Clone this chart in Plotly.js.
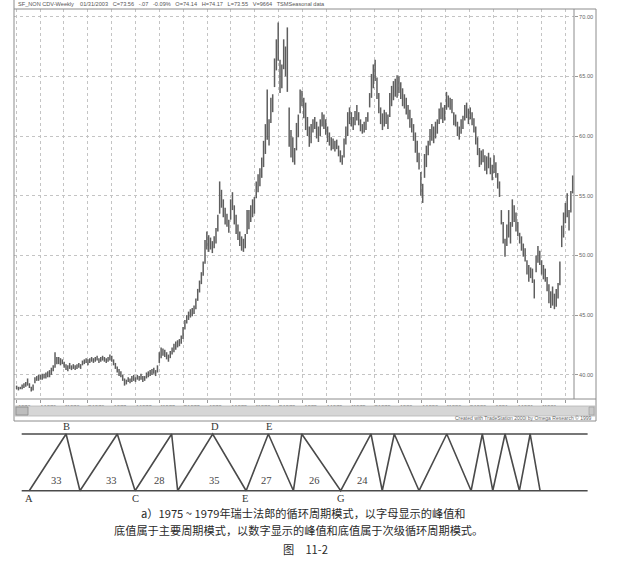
<!DOCTYPE html>
<html><head><meta charset="utf-8">
<script src="https://cdn.plot.ly/plotly-3.0.1.min.js"></script>
<style>html,body{margin:0;padding:0;background:#fff}#chart{width:637px;height:574px}</style>
</head><body><div id="chart"></div>
<script>
// ---------- DATA ----------
const firstWeek = '1976-01-02';   // weekly bars (Friday)
const weeklyHigh = [
39.1,39.0,39.0,39.2,39.3,39.4,39.7,39.3,39.0,39.2,
39.8,39.9,40.0,40.0,40.1,40.1,40.2,40.3,40.4,40.6,
40.8,41.9,41.5,41.5,41.4,41.3,41.1,40.9,40.8,41.0,
40.8,40.9,40.8,40.9,41.0,40.9,41.2,41.3,41.4,41.3,
41.4,41.5,41.4,41.5,41.6,41.4,41.5,41.6,41.5,41.4,
41.5,41.7,41.6,41.3,41.0,40.7,40.5,40.3,40.0,39.7,
39.6,39.8,39.7,39.9,40.0,39.8,40.0,39.9,40.1,39.9,
39.9,40.2,40.3,40.4,40.5,40.6,40.4,40.8,41.9,42.3,
42.2,42.1,41.9,41.7,42.0,42.3,42.6,42.8,42.9,43.0,
43.3,44.0,44.6,45.0,45.3,45.5,45.6,45.8,46.4,47.2,
47.9,48.6,49.5,51.3,52.0,51.7,51.5,51.2,51.6,52.3,
53.4,56.2,55.5,54.7,54.0,53.5,53.0,54.7,55.3,54.2,
53.4,52.6,52.0,51.6,51.4,51.8,53.8,53.8,54.2,54.7,
54.9,56.2,56.8,57.3,58.2,59.6,61.0,63.9,61.4,63.2,
63.5,66.5,68.1,69.5,66.4,66.0,68.1,67.5,69.1,62.4,
60.5,59.9,59.0,61.1,61.8,63.9,63.8,63.2,62.8,61.6,
60.8,61.0,61.4,61.6,61.2,60.8,61.4,62.0,61.8,61.4,
60.8,60.3,59.9,59.8,59.6,59.7,59.2,58.8,58.4,59.8,
60.8,62.0,62.4,62.0,61.6,62.1,62.6,62.0,61.4,61.0,
61.2,61.6,62.0,63.6,65.2,66.0,66.4,64.9,63.6,62.4,
61.9,62.2,62.0,61.8,63.6,64.2,64.6,64.8,65.1,65.0,
64.5,64.0,63.5,63.2,62.6,62.2,61.5,61.0,60.3,59.6,
58.6,57.0,56.0,58.5,59.2,59.6,60.6,61.0,60.8,61.2,
61.4,62.3,62.8,62.4,62.6,63.7,63.4,63.2,63.1,62.0,
61.8,61.2,60.8,61.4,61.7,62.6,62.8,62.3,62.4,62.0,
61.5,60.8,59.9,59.0,58.8,58.9,58.4,58.3,58.6,58.2,
57.6,58.4,57.8,56.9,56.2,53.8,52.8,51.4,52.6,53.8,
52.8,54.7,54.2,53.6,52.8,51.9,51.6,51.0,50.6,49.6,
49.2,49.0,48.9,48.0,50.0,50.8,50.4,49.6,49.2,48.9,
48.2,47.6,47.0,47.4,46.8,47.2,47.7,49.5,52.5,53.6,
54.4,55.2,53.8,55.4,56.7];
const weeklyLow = [
38.8,38.7,38.8,38.8,38.9,39.0,39.1,38.9,38.6,38.7,
39.3,39.5,39.5,39.6,39.6,39.7,39.7,39.8,39.8,40.0,
40.3,40.6,40.9,40.9,40.8,40.9,40.6,40.4,40.3,40.5,
40.4,40.5,40.4,40.5,40.6,40.5,40.8,40.9,41.0,40.8,
41.0,41.1,41.0,41.1,41.2,41.0,41.1,41.2,41.1,41.0,
41.1,41.2,41.1,40.8,40.5,40.2,39.9,39.8,39.5,39.1,
39.2,39.4,39.3,39.4,39.5,39.4,39.6,39.5,39.6,39.4,
39.5,39.7,39.8,39.9,40.0,40.1,39.9,40.2,41.0,41.4,
41.6,41.5,41.3,41.1,41.4,41.7,41.9,42.1,42.3,42.4,
42.6,43.0,43.8,44.3,44.6,44.8,44.9,45.1,45.5,46.2,
46.9,47.6,48.3,49.3,50.5,50.3,50.5,50.2,50.6,51.0,
52.0,53.5,54.0,53.2,52.6,52.4,51.9,53.0,53.8,52.6,
51.8,51.3,50.8,50.4,50.3,50.6,51.8,52.2,52.8,53.2,
53.5,54.8,55.3,55.8,56.5,57.4,58.5,59.7,59.2,61.1,
62.0,64.1,65.5,66.3,63.6,64.0,65.6,65.0,63.7,59.1,
58.2,57.8,57.6,58.8,59.9,61.9,62.5,61.5,60.5,60.0,
59.1,59.4,60.3,60.6,59.8,59.5,60.0,60.8,60.6,60.1,
59.5,59.2,58.8,58.9,58.7,58.9,58.3,57.8,57.6,58.2,
59.3,60.0,61.0,60.8,60.5,60.9,61.3,60.9,60.4,60.2,
60.3,60.5,61.2,62.4,63.2,64.0,64.6,63.1,61.9,61.0,
60.5,60.8,61.0,60.6,61.6,62.5,63.0,63.3,63.2,63.6,
63.1,62.5,62.3,61.8,61.4,60.7,60.3,59.6,58.6,57.8,
57.2,55.0,54.4,56.5,57.4,58.4,59.2,59.6,59.4,59.8,
60.2,61.0,61.4,61.1,61.3,62.2,62.4,62.2,61.9,60.9,
60.8,60.0,59.7,60.2,60.6,61.3,61.5,61.0,61.4,60.9,
60.3,59.3,58.4,57.4,57.6,57.8,57.1,56.8,57.3,56.8,
56.3,56.9,56.5,55.6,54.9,52.6,51.0,49.9,50.8,51.5,
51.0,52.4,52.8,52.0,51.6,51.0,50.4,49.9,49.5,48.4,
47.8,48.1,47.7,46.4,48.6,49.4,49.2,48.4,48.0,47.8,
47.0,46.0,45.6,45.8,45.5,45.7,46.4,47.5,50.7,51.5,
52.7,53.2,52.1,53.6,55.2];

const priceTicks = [40,45,50,55,60,65,70];
const tickDates = [
'1976-01-01','1976-04-01','1976-07-01','1976-10-01',
'1977-01-01','1977-04-01','1977-07-01','1977-10-01',
'1978-01-01','1978-04-01','1978-07-01','1978-10-01',
'1979-01-01','1979-04-01','1979-07-01','1979-10-01',
'1980-01-01','1980-04-01','1980-07-01','1980-10-01',
'1981-01-01','1981-04-01','1981-07-01','1981-10-01'];
const tickLabels = [
'1976','A1976','J1976','O1976','1977','A1977','J1977','O1977',
'1978','A1978','J1978','O1978','1979','A1979','J1979','O1979',
'1980','A1980','J1980','O1980','1981','A1981','J1981',''];

const headerText = 'SF_NON CDV-Weekly    01/31/2003   C=73.56   -.07   -0.09%   O=74.14   H=74.17   L=73.55   V=9664   TSMSeasonal data';
const creditText = 'Created with TradeStation 2000i by Omega Research © 1999';

// cycle diagram: turning points (1 = peak, 0 = trough)
const cycleDates = ['1976-02-19','1976-07-09','1976-08-31','1977-01-21','1977-03-30','1977-08-17','1977-09-09',
 '1978-01-21','1978-05-29','1978-08-22','1978-11-26','1978-12-28','1979-05-26','1979-09-19','1979-11-01',
 '1979-12-17','1980-03-21','1980-07-05','1980-10-06','1980-11-18','1980-12-28','1981-02-13','1981-04-09',
 '1981-05-20','1981-06-27'];
const cycleLevels = [0,1,0,1,0,1,0,1,0,1,0,1,0,1,0,1,0,1,0,1,0,1,0,1,0];
const bandStart = '1976-01-21', bandEnd = '1981-12-26';
const majorLetters = ['A','B','C','D','E','E','G'];
const majorDates   = ['1976-02-19','1976-07-10','1977-03-30','1978-01-28','1978-05-24','1978-08-24','1979-05-26'];
const majorLevels  = [0,1,0,1,0,1,0];
const minorLengths = ['33','33','28','35','27','26','24'];
const minorDates   = ['1976-06-01','1976-12-31','1977-07-01','1978-01-27','1978-08-16','1979-02-14','1979-08-18'];

const caption1 = 'a）1975 ~ 1979年瑞士法郎的循环周期模式，以字母显示的峰值和';
const caption2 = '底值属于主要周期模式，以数字显示的峰值和底值属于次级循环周期模式。';
const caption3 = '图　11-2';

// ---------- BUILD ----------
const W = 637, H = 574;
const P = x => x / W, Q = y => 1 - y / H;
const dates = weeklyHigh.map((_, i) => {
  const d = new Date(Date.parse(firstWeek + 'T00:00:00Z') + i * 7 * 86400000);
  return d.toISOString().slice(0, 10);
});
const bx = [], by = [];
dates.forEach((d, i) => { bx.push(d, d, null); by.push(weeklyLow[i], weeklyHigh[i], null); });

const traces = [
  {type:'scatter', mode:'lines', x:bx, y:by, xaxis:'x', yaxis:'y',
   line:{color:'#5e5e5e', width:1.5}, hoverinfo:'skip', showlegend:false},
  {type:'scatter', mode:'lines', x:cycleDates, y:cycleLevels, xaxis:'x2', yaxis:'y2',
   line:{color:'#4a4a4a', width:1.6}, hoverinfo:'skip', showlegend:false},
  {type:'scatter', mode:'lines', x:[bandStart, bandEnd, null, bandStart, bandEnd], y:[1,1,null,0,0],
   xaxis:'x2', yaxis:'y2', line:{color:'#4a4a4a', width:1.6}, hoverinfo:'skip', showlegend:false}
];

const ann = [];
const serif = 'Liberation Serif, DejaVu Serif, serif';
majorLetters.forEach((t, i) => ann.push({
  xref:'x2', yref:'y2', x:majorDates[i], y:majorLevels[i], text:t, showarrow:false, borderpad:0,
  xanchor:'center', yanchor:'middle', yshift: majorLevels[i] ? 7 : -8,
  font:{family:serif, size:10.5, color:'#333'}}));
minorLengths.forEach((t, i) => ann.push({
  xref:'x2', yref:'y2', x:minorDates[i], y:0, text:t, showarrow:false, borderpad:0,
  xanchor:'center', yanchor:'middle', yshift:10, font:{family:serif, size:10.5, color:'#444'}}));
const cjk = 'Noto Sans CJK SC, sans-serif';
const capFont = {family:cjk, size:11.2, color:'#2a2a2a'};
ann.push({xref:'paper', yref:'paper', x:P(303), y:Q(512.5), xanchor:'center', yanchor:'middle', borderpad:0, text:caption1, showarrow:false, font:capFont});
ann.push({xref:'paper', yref:'paper', x:P(298), y:Q(530), xanchor:'center', yanchor:'middle', borderpad:0, text:caption2, showarrow:false, font:capFont});
ann.push({xref:'paper', yref:'paper', x:P(305), y:Q(548.5), xanchor:'center', yanchor:'middle', borderpad:0, text:caption3, showarrow:false, font:capFont});
ann.push({xref:'paper', yref:'paper', x:P(16), y:Q(4.5), xanchor:'left', yanchor:'middle', text:headerText, showarrow:false,
  font:{family:'Liberation Sans, Arial, sans-serif', size:5.6, color:'#555'}});
ann.push({xref:'paper', yref:'paper', x:P(593), y:Q(418.5), xanchor:'right', yanchor:'middle', text:creditText, showarrow:false,
  font:{family:'Liberation Sans, Arial, sans-serif', size:5, color:'#666'}});

const gray = '#8c8c8c';
const shapes = [
  {type:'rect', xref:'paper', yref:'paper', x0:P(14), x1:P(596), y0:Q(421), y1:Q(9), line:{color:gray, width:1}},
  {type:'line', xref:'paper', yref:'paper', x0:P(14), x1:P(14), y0:Q(9), y1:Q(0), line:{color:gray, width:1}},
  {type:'line', xref:'paper', yref:'paper', x0:P(574), x1:P(574), y0:Q(399), y1:Q(9), line:{color:gray, width:1}},
  {type:'line', xref:'paper', yref:'paper', x0:P(14), x1:P(596), y0:Q(399), y1:Q(399), line:{color:gray, width:1}},
  {type:'rect', xref:'paper', yref:'paper', x0:P(15), x1:P(595), y0:Q(416), y1:Q(406), fillcolor:'#d6d6d6', line:{color:'#b5b5b5', width:0.8}},
  {type:'rect', xref:'paper', yref:'paper', x0:P(16), x1:P(28), y0:Q(415), y1:Q(407), fillcolor:'#bdbdbd', line:{color:'#8a8a8a', width:0.8}},
  {type:'rect', xref:'paper', yref:'paper', x0:P(589), x1:P(594), y0:Q(415), y1:Q(407), fillcolor:'#c8c8c8', line:{color:'#999', width:0.6}}
];

const layout = {
  width:W, height:H, margin:{l:0, r:0, t:0, b:0},
  paper_bgcolor:'#fff', plot_bgcolor:'rgba(0,0,0,0)', showlegend:false,
  xaxis:{type:'date', domain:[P(14), P(574)], range:['1975-12-23','1981-11-04'], anchor:'y',
    tickmode:'array', tickvals:tickDates, ticktext:tickLabels, ticks:'outside', ticklen:3, tickcolor:'#999',
    tickfont:{family:'Liberation Sans, Arial, sans-serif', size:5.6, color:'#666'}, ticklabelshift:8, ticklabelstandoff:-1,
    showgrid:true, gridcolor:'#c4c4c4', griddash:'dot', gridwidth:1, zeroline:false, showline:false, fixedrange:true},
  yaxis:{domain:[Q(399), Q(9)], range:[37.98, 70.64], side:'right', anchor:'x',
    tickmode:'array', tickvals:priceTicks, ticktext:priceTicks.map(v => v.toFixed(2)),
    ticks:'outside', ticklen:3, tickcolor:'#999',
    tickfont:{family:'Liberation Sans, Arial, sans-serif', size:5.6, color:'#666'},
    showgrid:true, gridcolor:'#c4c4c4', griddash:'dot', gridwidth:1, zeroline:false, showline:false, fixedrange:true},
  xaxis2:{type:'date', domain:[0,1], range:['1975-10-30','1982-07-03'], anchor:'y2', visible:false, fixedrange:true},
  yaxis2:{domain:[Q(496.4), Q(428.3)], range:[-0.1, 1.1], anchor:'x2', visible:false, fixedrange:true},
  shapes:shapes, annotations:ann
};
Plotly.newPlot('chart', traces, layout, {staticPlot:true, displayModeBar:false});
</script>
</body></html>
